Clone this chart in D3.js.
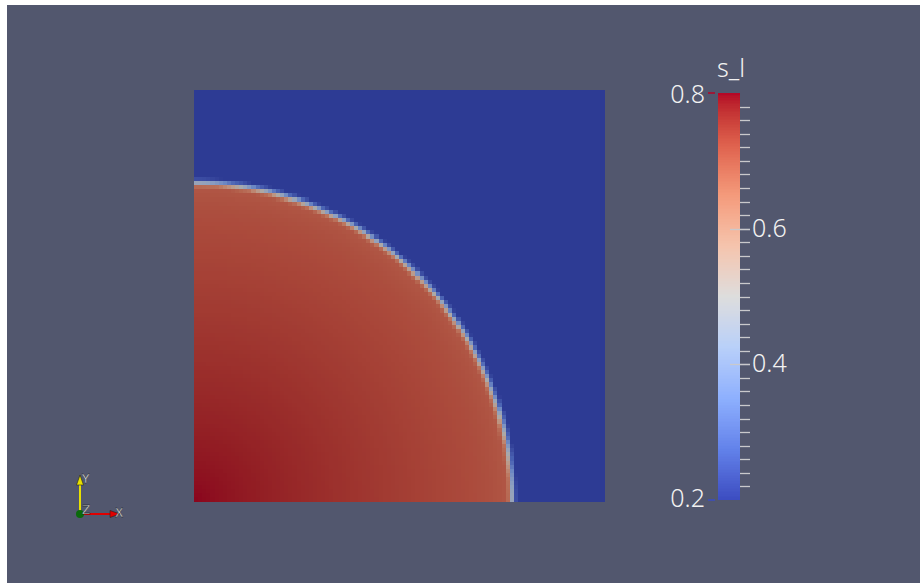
<!DOCTYPE html>
<html><head><meta charset="utf-8">
<script src="https://cdn.jsdelivr.net/npm/d3@7"></script>
<style>
html,body{margin:0;padding:0;background:#fff;}
svg{display:block;}
</style></head>
<body>
<svg id="chart" width="920" height="583"></svg>
<script>
// ---- data ----
// radial profile of s_l from the lower-left corner (domain units, square = [0,1] x [0,1])
const profileRadius = [0.00, 0.08, 0.16, 0.24, 0.32, 0.40, 0.48, 0.56, 0.64, 0.70, 0.735, 0.760, 0.767, 0.774, 0.781, 0.788];
const profileValue  = [0.800, 0.791, 0.782, 0.773, 0.764, 0.755, 0.746, 0.737, 0.728, 0.720, 0.713, 0.705, 0.660, 0.480, 0.280, 0.200];
const gridCells = 100;                 // cells per side of the mesh
const colorRange = [0.2, 0.8];          // s_l colour range
const majorTicks = [0.2, 0.4, 0.6, 0.8];
const tickStep = 0.02;
const fieldName = "s_l";
// Cool-to-Warm colour map stops
const cmapStops = ["#3b4cc0", "#6282ea", "#8db0fe", "#b8d0f9", "#dddddd", "#f5c4ad", "#f49a7b", "#de604d", "#b40426"];

// ---- helpers ----
const svg = d3.select("#chart");
const cmap = d3.scaleLinear()
  .domain(d3.range(cmapStops.length).map(i => colorRange[0] + (colorRange[1]-colorRange[0]) * i/(cmapStops.length-1)))
  .range(cmapStops).interpolate(d3.interpolateLab).clamp(true);
const profile = d3.scaleLinear().domain(profileRadius).range(profileValue).clamp(true);
const shade = 0.77;
function shaded(v){ const c = d3.rgb(cmap(v)); return d3.rgb(c.r*shade, c.g*shade, c.b*shade).toString(); }

// background
svg.append("rect").attr("x",7).attr("y",5).attr("width",913).attr("height",578).attr("fill","rgb(82,87,110)");

// ---- field ----
const x = d3.scaleLinear().domain([0,1]).range([194,604]);
const y = d3.scaleLinear().domain([0,1]).range([501,90]);
const cells = [];
const h = 1/gridCells;
for (let i=0;i<gridCells;i++) for (let j=0;j<gridCells;j++){
  const cx=(i+0.5)*h, cy=(j+0.5)*h;
  cells.push({i,j,v: profile(Math.hypot(cx,cy))});
}
svg.append("g").attr("shape-rendering","crispEdges")
  .selectAll("rect").data(cells).join("rect")
  .attr("x", d => x(d.i*h))
  .attr("y", d => y((d.j+1)*h))
  .attr("width", x(h)-x(0)+0.6)
  .attr("height", y(0)-y(h)+0.6)
  .attr("fill", d => shaded(d.v));

// ---- colour bar ----
const cb = d3.scaleLinear().domain(colorRange).range([500,93]);
const barX = 718, barW = 22;
const nBands = 256;
const bands = d3.range(nBands).map(k => colorRange[0] + (colorRange[1]-colorRange[0])*(k+0.5)/nBands);
const bandH = (cb(colorRange[0]) - cb(colorRange[1]))/nBands;
svg.append("g").attr("shape-rendering","crispEdges").selectAll("rect").data(bands).join("rect")
  .attr("x", barX).attr("width", barW)
  .attr("y", d => cb(d) - bandH/2 - 0.3).attr("height", bandH + 0.6)
  .attr("fill", d => cmap(d));

const minor = d3.range(Math.round((colorRange[1]-colorRange[0])/tickStep)+1).map(k => +(colorRange[0]+k*tickStep).toFixed(3));
const tg = svg.append("g");
tg.selectAll("line.minor").data(minor.filter(v => v>colorRange[0]+1e-6 && v<colorRange[1]-1e-6)).join("line")
  .attr("class","minor")
  .attr("x1", barX+barW).attr("x2", barX+barW+10)
  .attr("y1", d => Math.round(cb(d))+0.5).attr("y2", d => Math.round(cb(d))+0.5)
  .attr("stroke","#c9c9cc").attr("stroke-width",1.3);
const innerMajor = majorTicks.filter(v => v>colorRange[0] && v<colorRange[1]);
tg.selectAll("line.major").data(innerMajor).join("line")
  .attr("x1", barX+barW-10).attr("x2", barX+barW+10)
  .attr("y1", d => Math.round(cb(d))+0.5).attr("y2", d => Math.round(cb(d))+0.5)
  .attr("stroke","#c9c9cc").attr("stroke-width",1.3);
// range ticks
tg.selectAll("line.range").data(colorRange).join("line")
  .attr("x1", barX-10).attr("x2", barX-3)
  .attr("y1", d => cb(d)).attr("y2", d => cb(d))
  .attr("stroke", d => cmap(d)).attr("stroke-width",1.5);

const font = "'Noto Sans', 'Open Sans', sans-serif";
svg.append("g").selectAll("text.in").data(innerMajor).join("text")
  .attr("x", barX+barW+12).attr("y", d => cb(d)+8)
  .attr("font-family", font).attr("font-size", 25).attr("font-weight", 300)
  .attr("fill","#f2f2f2").text(d => d3.format(".1f")(d));
svg.append("g").selectAll("text.rg").data(colorRange).join("text")
  .attr("x", barX-13).attr("y", (d,i) => i===0 ? cb(d)+7 : cb(d)+10)
  .attr("text-anchor","end")
  .attr("font-family", font).attr("font-size", 25).attr("font-weight", 300)
  .attr("fill","#f2f2f2").text(d => d3.format(".1f")(d));
svg.append("text").attr("x", barX+barW/2+2).attr("y", 77).attr("text-anchor","middle")
  .attr("font-family", font).attr("font-size", 25).attr("font-weight", 300)
  .attr("fill","#f2f2f2").text(fieldName);

// ---- orientation axes ----
const ax = svg.append("g");
const ox = 80, oy = 514;
ax.append("line").attr("x1",ox).attr("y1",oy).attr("x2",ox).attr("y2",482).attr("stroke","#e8e000").attr("stroke-width",2);
ax.append("path").attr("d",`M${ox-3.5},${485} L${ox},${475} L${ox+3.5},${485} Z`).attr("fill","#e8e000").attr("stroke","#222").attr("stroke-width",0.6);
ax.append("line").attr("x1",ox).attr("y1",oy).attr("x2",112).attr("y2",oy).attr("stroke","#e00000").attr("stroke-width",2);
ax.append("path").attr("d",`M${110},${oy-3.5} L${120},${oy} L${110},${oy+3.5} Z`).attr("fill","#e00000").attr("stroke","#222").attr("stroke-width",0.6);
ax.append("circle").attr("cx",ox).attr("cy",oy).attr("r",4).attr("fill","#0a6a0a");
const lab = [{t:"Y",x:82,y:483},{t:"Z",x:82,y:514},{t:"X",x:115,y:517}];
ax.selectAll("text").data(lab).join("text")
  .attr("x",d=>d.x).attr("y",d=>d.y).text(d=>d.t)
  .attr("font-family","'DejaVu Sans', sans-serif").attr("font-size",12)
  .attr("fill","#fff").attr("stroke","#111").attr("stroke-width",0.4);
</script>
</body></html>
